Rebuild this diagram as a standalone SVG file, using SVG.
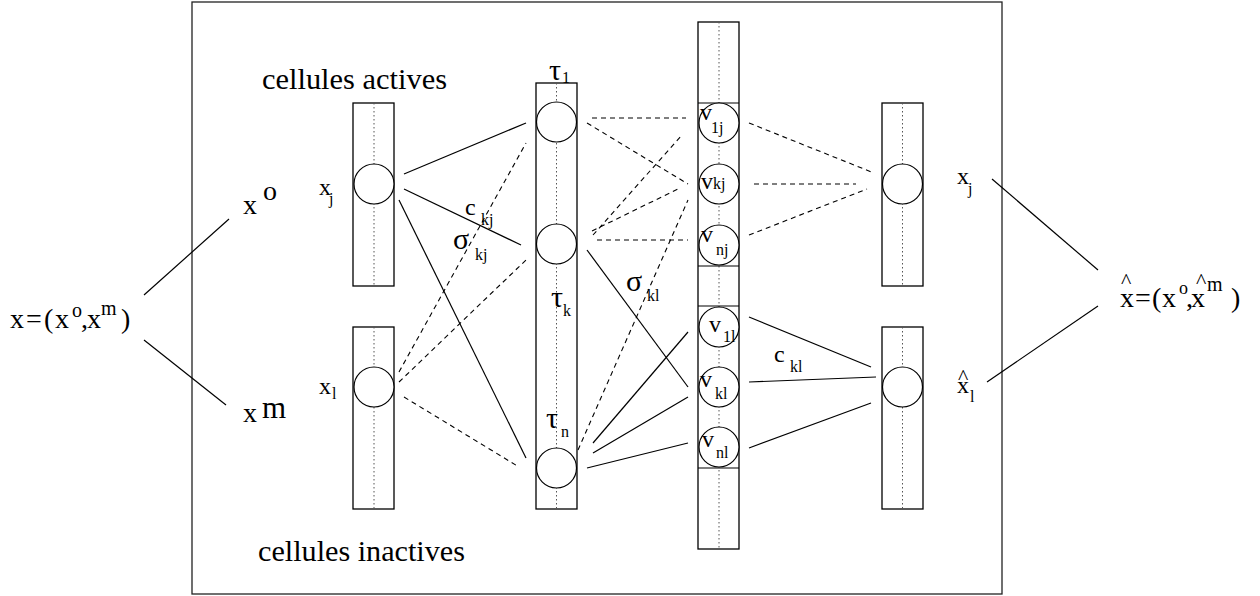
<svg xmlns="http://www.w3.org/2000/svg" width="1260" height="596" viewBox="0 0 1260 596">
<style>
text{font-family:"Liberation Serif","Times New Roman",serif;fill:#000}
.col{fill:none;stroke:#000;stroke-width:1.3}
.dot{stroke:#555;stroke-width:1;stroke-dasharray:1.5,2.5;fill:none}
.cell{fill:#fff;stroke:#000;stroke-width:1.2}
.s{stroke:#000;stroke-width:1.2;fill:none}
.d{stroke:#000;stroke-width:1.1;stroke-dasharray:5,4;fill:none}
.b{font-size:28px}
.m{font-size:24px}
.g{font-size:30px}
.sub{font-size:16px}
.sup{font-size:20px}
.hat{font-size:22px}
</style>
<rect id="frame" x="192" y="2" width="810" height="592" fill="#fff" stroke="#222" stroke-width="1.3"/>
<g id="connectors">
<line class="s" x1="144" y1="295" x2="229" y2="219"/>
<line class="s" x1="144" y1="340" x2="226" y2="405"/>
<line class="s" x1="992" y1="179" x2="1098" y2="270"/>
<line class="s" x1="987" y1="382" x2="1098" y2="306"/>
<line class="s" x1="404" y1="174" x2="526" y2="123"/>
<line class="s" x1="404" y1="189" x2="521" y2="245"/>
<line class="s" x1="399" y1="200" x2="526" y2="458"/>
<line class="s" x1="587" y1="250" x2="688" y2="387"/>
<line class="s" x1="593" y1="443" x2="688" y2="332"/>
<line class="s" x1="593" y1="453" x2="688" y2="397"/>
<line class="s" x1="587" y1="468" x2="688" y2="443"/>
<line class="s" x1="749" y1="317" x2="871" y2="367"/>
<line class="s" x1="749" y1="382" x2="876" y2="377"/>
<line class="s" x1="749" y1="448" x2="871" y2="403"/>
<line class="d" x1="399" y1="372" x2="526" y2="143"/>
<line class="d" x1="399" y1="382" x2="526" y2="260"/>
<line class="d" x1="404" y1="397" x2="519" y2="467"/>
<line class="d" x1="592" y1="118" x2="686" y2="118"/>
<line class="d" x1="587" y1="123" x2="688" y2="184"/>
<line class="d" x1="593" y1="235" x2="682" y2="135"/>
<line class="d" x1="592" y1="231" x2="678" y2="189"/>
<line class="d" x1="597" y1="240" x2="688" y2="240"/>
<line class="d" x1="578" y1="450" x2="688" y2="200"/>
<line class="d" x1="749" y1="123" x2="874" y2="173"/>
<line class="d" x1="754" y1="184" x2="856" y2="184"/>
<line class="d" x1="749" y1="235" x2="867" y2="189"/>
</g>
<g id="input-active">
<rect class="col" x="353" y="103" width="41" height="183"/>
<line class="dot" x1="374" y1="103" x2="374" y2="286"/>
<circle class="cell" cx="374" cy="184" r="20"/>
<text class="m" x="319" y="195">x</text><text class="sub" x="329" y="204">j</text>
</g>
<g id="input-inactive">
<rect class="col" x="353" y="327" width="41" height="182"/>
<line class="dot" x1="374" y1="327" x2="374" y2="509"/>
<circle class="cell" cx="374" cy="387" r="20"/>
<text class="m" x="319" y="394">x</text><text class="sub" x="332" y="399">l</text>
</g>
<g id="tau-column">
<rect class="col" x="536" y="83" width="41" height="426"/>
<line class="dot" x1="556.5" y1="83" x2="556.5" y2="509"/>
<circle class="cell" cx="556.5" cy="122" r="20"/>
<circle class="cell" cx="556.5" cy="244" r="20"/>
<circle class="cell" cx="556.5" cy="468" r="20"/>
<text class="g" x="549" y="80">τ</text><text class="sub" x="562" y="83">1</text>
<text class="g" x="551" y="307">τ</text><text class="sub" x="563" y="316">k</text>
<text class="g" x="546" y="428">τ</text><text class="sub" x="561" y="437">n</text>
</g>
<g id="v-column">
<rect class="col" x="698" y="22" width="41" height="527"/>
<line class="dot" x1="719" y1="22" x2="719" y2="549"/>
<line class="s" x1="698" y1="103" x2="739" y2="103"/>
<line class="s" x1="698" y1="266" x2="739" y2="266"/>
<line class="s" x1="698" y1="306" x2="739" y2="306"/>
<line class="s" x1="698" y1="468" x2="739" y2="468"/>
<circle class="cell" cx="719" cy="123" r="20"/>
<circle class="cell" cx="719" cy="184" r="20"/>
<circle class="cell" cx="719" cy="245" r="20"/>
<circle class="cell" cx="719" cy="327" r="20"/>
<circle class="cell" cx="719" cy="387" r="20"/>
<circle class="cell" cx="719" cy="447" r="20"/>
<text class="m" x="700" y="120">v</text><text class="sub" x="711" y="133">1j</text>
<text class="m" x="701" y="189">v</text><text class="sub" x="713" y="189">kj</text>
<text class="m" x="701" y="242">v</text><text class="sub" x="716" y="255">nj</text>
<text class="m" x="709" y="332">v</text><text class="sub" x="723" y="342">1l</text>
<text class="m" x="700" y="387">v</text><text class="sub" x="715" y="399">kl</text>
<text class="m" x="702" y="447">v</text><text class="sub" x="716" y="458">nl</text>
</g>
<g id="output-active">
<rect class="col" x="882" y="103" width="41" height="183"/>
<line class="dot" x1="902.5" y1="103" x2="902.5" y2="286"/>
<circle class="cell" cx="902.5" cy="184" r="20"/>
<text class="m" x="957" y="184">x</text><text class="sub" x="968" y="194">j</text>
</g>
<g id="output-inactive">
<rect class="col" x="882" y="327" width="41" height="182"/>
<line class="dot" x1="902.5" y1="327" x2="902.5" y2="509"/>
<circle class="cell" cx="902.5" cy="387" r="20"/>
<text class="hat" x="958" y="384">^</text>
<text class="m" x="957" y="393">x</text><text class="sub" x="970" y="402">l</text>
</g>
<g id="weight-labels">
<text class="m" x="465" y="215">c</text><text class="sub" x="481" y="225">kj</text>
<text class="g" x="453" y="249">σ</text><text class="sub" x="475" y="260">kj</text>
<text class="g" x="626" y="291">σ</text><text class="sub" x="647" y="301">kl</text>
<text class="m" x="774" y="362">c</text><text class="sub" x="790" y="372">kl</text>
</g>
<g id="input-label">
<text class="b" x="10" y="328">x</text>
<text class="b" x="26" y="328">=</text>
<text class="b" x="44" y="328">(</text>
<text class="b" x="55" y="328">x</text>
<text class="sup" x="72" y="317">o</text>
<text class="b" x="81" y="328">,</text>
<text class="b" x="87" y="328">x</text>
<text class="sup" x="101" y="315">m</text>
<text class="b" x="121" y="328">)</text>
</g>
<g id="x-o-label"><text class="b" x="243" y="214">x</text><text class="b" x="263" y="200">o</text></g>
<g id="x-m-label"><text class="b" x="243" y="422">x</text><text class="b" x="262" y="418" style="font-size:31px">m</text></g>
<g id="output-label">
<text class="hat" x="1121" y="288">^</text>
<text class="b" x="1120" y="307">x</text>
<text class="b" x="1135" y="307">=</text>
<text class="b" x="1152" y="307">(</text>
<text class="b" x="1162" y="307">x</text>
<text class="sup" x="1179" y="294" style="font-size:18px">o</text>
<text class="b" x="1186" y="307">,</text>
<text class="b" x="1191" y="307">x</text>
<text class="hat" x="1196" y="288">^</text>
<text class="sup" x="1207" y="291">m</text>
<text class="b" x="1231" y="307">)</text>
</g>
<g id="captions">
<text x="262" y="89" style="font-size:29px" textLength="185" lengthAdjust="spacingAndGlyphs">cellules actives</text>
<text x="258" y="561" style="font-size:29px" textLength="207" lengthAdjust="spacingAndGlyphs">cellules inactives</text>
</g>
</svg>
